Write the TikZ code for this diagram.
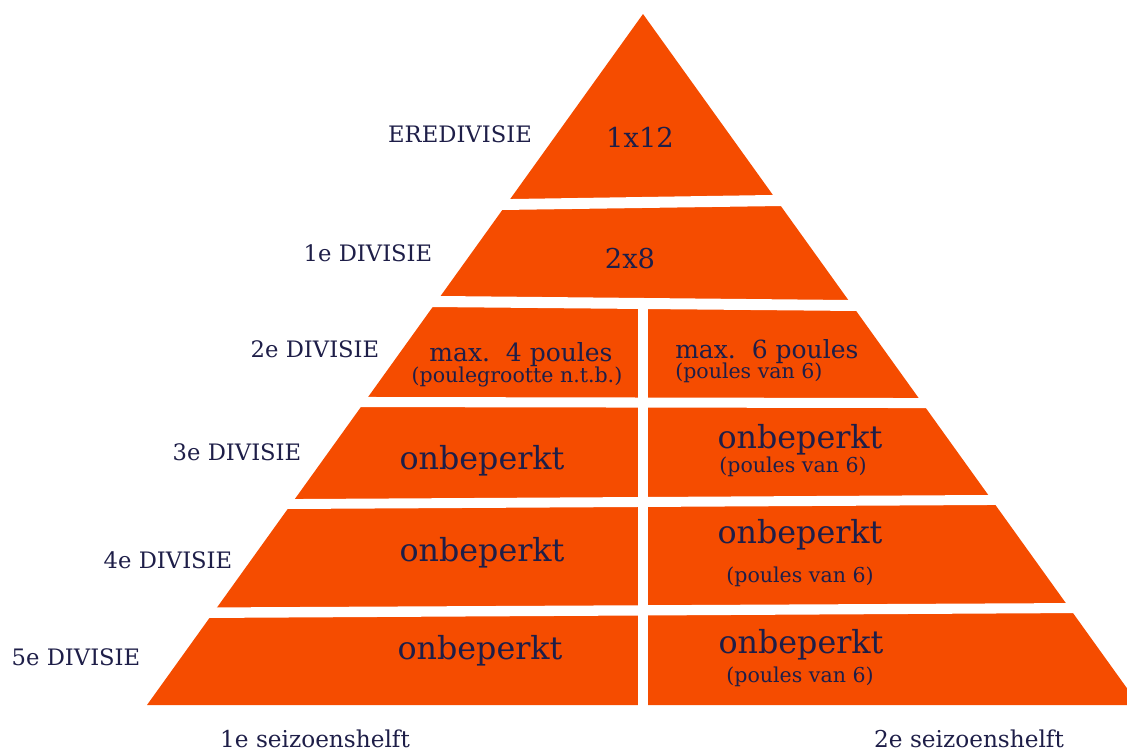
\documentclass[tikz,border=0pt]{standalone}
\usepackage{fontspec}
\setmainfont{DejaVu Serif}

\definecolor{pyrorange}{RGB}{245,76,0}
\definecolor{navytext}{RGB}{30,30,72}

\tikzset{
	divname/.style={text=navytext, inner sep=0pt, font=\fontsize{17}{20}\selectfont},
	bigcount/.style={text=navytext, inner sep=0pt, font=\fontsize{20.5}{24}\selectfont},
	maxpoule/.style={text=navytext, inner sep=0pt, font=\fontsize{18.75}{22}\selectfont},
	unlimited/.style={text=navytext, inner sep=0pt, font=\fontsize{23.8}{28}\selectfont},
	pouledetail/.style={text=navytext, inner sep=0pt, font=\fontsize{15.4}{18}\selectfont},
	halfseason/.style={text=navytext, inner sep=0pt, anchor=base, font=\fontsize{17.4}{20}\selectfont},
	gap/.style={fill=white},
}

\begin{document}
\begin{tikzpicture}[x=0.75pt,y=0.75pt,yscale=-1,xscale=1]
	\useasboundingbox (0,0) rectangle (1127,754);
	
	% Pyramid
	\fill[pyrorange] (643,14) -- (147,705) -- (1139,705) -- cycle;
	% Gaps between the bands
	\fill[gap] (480,199.5) -- (810,194.4) -- (810,205.6) -- (480,210.3) -- cycle;
	\fill[gap] (400,295.6) -- (890,300.4) -- (890,311.3) -- (400,306.7) -- cycle;
	\fill[gap] (330,396.9) -- (950,398.1) -- (950,408.1) -- (330,407) -- cycle;
	\fill[gap] (250,499.3) -- (1020,494.8) -- (1020,504.8) -- (250,509.2) -- cycle;
	\fill[gap] (180,607.6) -- (1100,602.9) -- (1100,612.9) -- (180,618.1) -- cycle;
	% Gap between the two halves
	\fill[gap] (638,298) rectangle (648,710);
	
	% Text Node
	\node[divname] (ere) at (460,134) {EREDIVISIE};
	% Text Node
	\node[divname] (div1) at (368,253) {1e DIVISIE};
	% Text Node
	\node[divname] (div2) at (315,349) {2e DIVISIE};
	% Text Node
	\node[divname] (div3) at (237,452) {3e DIVISIE};
	% Text Node
	\node[divname] (div4) at (168,560) {4e DIVISIE};
	% Text Node
	\node[divname] (div5) at (76,657) {5e DIVISIE};
	
	% Text Node
	\node[bigcount] (ereCount) at (640,137) {1x12};
	% Text Node
	\node[bigcount] (div1Count) at (630,259) {2x8};
	
	% Text Node
	\node[maxpoule] (div2Left) at (521,355) {max.\ \ 4 poules};
	% Text Node
	\node[pouledetail] (div2LeftSub) at (517,377) {(poulegrootte n.t.b.)};
	% Text Node
	\node[maxpoule, anchor=west] (div2Right) at (675,352) {max.\ \ 6 poules};
	% Text Node
	\node[pouledetail, anchor=west] (div2RightSub) at (675,373) {(poules van 6)};
	
	% Text Node
	\node[unlimited] (div3Left) at (482,461) {onbeperkt};
	% Text Node
	\node[unlimited] (div3Right) at (800,440) {onbeperkt};
	% Text Node
	\node[pouledetail] (div3RightSub) at (793,467) {(poules van 6)};
	
	% Text Node
	\node[unlimited] (div4Left) at (482,553) {onbeperkt};
	% Text Node
	\node[unlimited] (div4Right) at (800,535) {onbeperkt};
	% Text Node
	\node[pouledetail] (div4RightSub) at (800,577) {(poules van 6)};
	
	% Text Node
	\node[unlimited] (div5Left) at (480,651) {onbeperkt};
	% Text Node
	\node[unlimited] (div5Right) at (801,645) {onbeperkt};
	% Text Node
	\node[pouledetail] (div5RightSub) at (800,677) {(poules van 6)};
	
	% Text Node
	\node[halfseason] (firstHalf) at (315,747) {1e seizoenshelft};
	% Text Node
	\node[halfseason] (secondHalf) at (969,747) {2e seizoenshelft};
	
\end{tikzpicture}
\end{document}
